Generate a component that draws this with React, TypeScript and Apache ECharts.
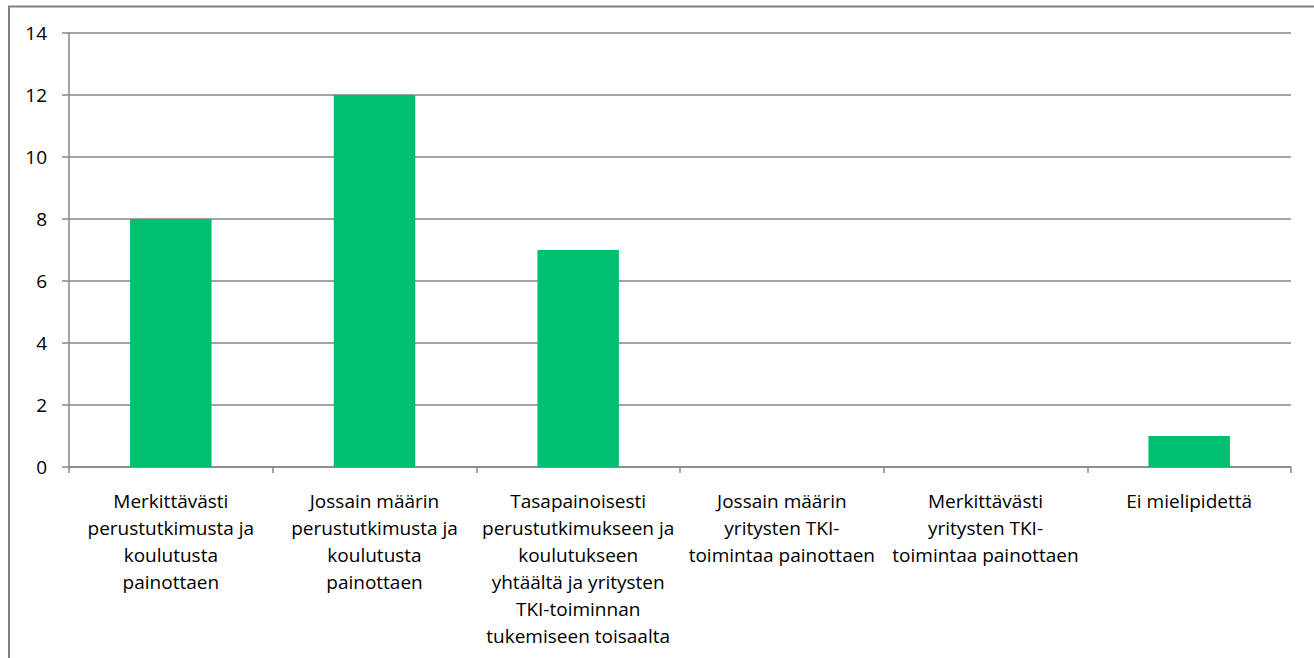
import React, { useEffect, useRef } from "react";
import * as echarts from "echarts";

const categories = [
  "Merkittävästi\nperustutkimusta ja\nkoulutusta\npainottaen",
  "Jossain määrin\nperustutkimusta ja\nkoulutusta\npainottaen",
  "Tasapainoisesti\nperustutkimukseen ja\nkoulutukseen\nyhtäältä ja yritysten\nTKI-toiminnan\ntukemiseen toisaalta",
  "Jossain määrin\nyritysten TKI-\ntoimintaa painottaen",
  "Merkittävästi\nyritysten TKI-\ntoimintaa painottaen",
  "Ei mielipidettä",
];
const values = [8, 12, 7, 0, 0, 1];

export default function App() {
  const ref = useRef<HTMLDivElement>(null);
  useEffect(() => {
    document.body.style.margin = "0";
    const chart = echarts.init(ref.current!, null, { renderer: "svg" });
    const font = "'Open Sans', Lato, sans-serif";
    chart.setOption({
      animation: false,
      backgroundColor: "#ffffff",
      graphic: [
        {
          type: "rect",
          shape: { x: 9, y: 6.5, width: 1400, height: 700 },
          style: { fill: "none", stroke: "#808080", lineWidth: 2 },
          silent: true,
        },
      ],
      grid: { left: 69, top: 33, right: 23, bottom: 191, containLabel: false },
      xAxis: {
        type: "category",
        data: categories,
        axisLine: { lineStyle: { color: "#868686", width: 1.5 } },
        axisTick: { show: true, alignWithLabel: false, length: 6, lineStyle: { color: "#868686", width: 1.5 } },
        axisLabel: {
          interval: 0,
          color: "#000",
          fontFamily: font,
          fontSize: 19,
          lineHeight: 27,
          margin: 20,
          align: "center",
        },
      },
      yAxis: {
        type: "value",
        min: 0,
        max: 14,
        interval: 2,
        axisLine: { show: true, lineStyle: { color: "#868686", width: 1.5 } },
        axisTick: { show: true, length: 7, lineStyle: { color: "#868686", width: 1.5 } },
        splitLine: { show: true, lineStyle: { color: "#868686", width: 1.5 } },
        axisLabel: { color: "#000", fontFamily: font, fontSize: 19, margin: 22 },
      },
      series: [
        {
          type: "bar",
          data: values,
          barWidth: "40%",
          itemStyle: { color: "#00BF6F" },
        },
      ],
    });
    return () => chart.dispose();
  }, []);
  return <div ref={ref} style={{ width: 1314, height: 658 }} />;
}
